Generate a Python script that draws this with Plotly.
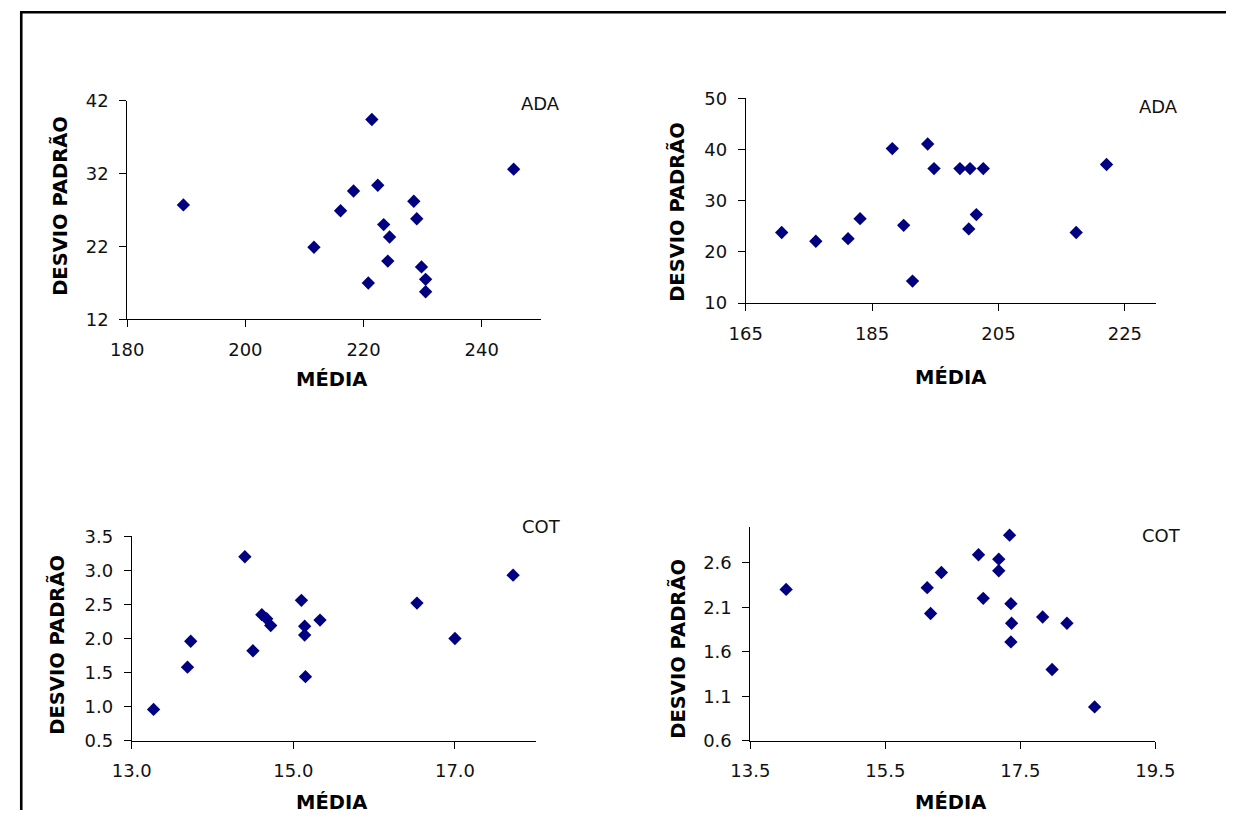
import plotly.graph_objects as go

# ---------------- data ----------------
ada1_media = [189.5, 221.4, 245.4, 222.4, 218.3, 228.5, 216.1, 229.0, 223.4, 224.4,
              211.6, 224.1, 229.8, 230.5, 220.8, 230.5]
ada1_desvio = [27.7, 39.4, 32.6, 30.4, 29.6, 28.2, 26.9, 25.8, 25.0, 23.3,
               21.9, 20.0, 19.2, 17.5, 17.0, 15.8]

ada2_media = [170.7, 176.1, 181.2, 183.1, 188.2, 190.0, 191.4, 193.8, 194.8, 198.9,
              200.5, 202.6, 200.3, 201.5, 217.3, 222.1]
ada2_desvio = [23.8, 22.1, 22.6, 26.5, 40.2, 25.2, 14.3, 41.1, 36.3, 36.3,
               36.3, 36.3, 24.5, 27.3, 23.8, 37.1]

cot1_media = [13.27, 13.69, 13.73, 14.40, 14.50, 14.61, 14.67, 14.72, 15.10, 15.14,
              15.14, 15.15, 15.33, 16.53, 17.00, 17.72]
cot1_desvio = [0.96, 1.58, 1.96, 3.20, 1.82, 2.35, 2.29, 2.19, 2.56, 2.18,
               2.05, 1.44, 2.27, 2.52, 2.00, 2.93]

cot2_media = [14.03, 16.12, 16.33, 16.17, 16.88, 16.95, 17.18, 17.18, 17.34, 17.36,
              17.37, 17.36, 17.83, 18.19, 17.97, 18.60]
cot2_desvio = [2.30, 2.32, 2.49, 2.03, 2.69, 2.20, 2.64, 2.51, 2.91, 2.14,
               1.92, 1.71, 1.99, 1.92, 1.40, 0.98]

panel_labels = ["ADA", "ADA", "COT", "COT"]
x_title = "MÉDIA"
y_title = "DESVIO PADRÃO"

x_ticks = [[180, 200, 220, 240], [165, 185, 205, 225], [13.0, 15.0, 17.0], [13.5, 15.5, 17.5, 19.5]]
y_ticks = [[12, 22, 32, 42], [10, 20, 30, 40, 50], [0.5, 1.0, 1.5, 2.0, 2.5, 3.0, 3.5], [0.6, 1.1, 1.6, 2.1, 2.6]]
x_ranges = [[180, 250], [165, 230], [13.0, 18.0], [13.5, 19.5]]
y_ranges = [[12, 42], [10, 50], [0.5, 3.5], [0.6, 3.0]]
tick_fmt = [("d", "d"), ("d", "d"), (".1f", ".1f"), (".1f", ".1f")]

# ---------------- layout helpers ----------------
W, H = 1246, 820
# the photographed page shows the figure slightly reduced and offset;
# these constants map target picture pixels back onto figure pixels
OX, SX, OY, SY = 18.5, 0.971, 9.0, 0.977


def px(x):
    return ((x - OX) / SX) / W


def py(y):
    return 1 - ((y - OY) / SY) / H


K = 1 / ((SX + SY) / 2)   # size compensation for fonts / markers

# plot-area boxes in target picture pixels: (left, right, top, bottom)
boxes = [
    (126.1, 541.0, 98.8, 318.3),
    (746.5, 1158.6, 96.7, 301.9),
    (130.6, 535.9, 535.7, 740.7),
    (751.2, 1157.5, 526.5, 740.7),
]
label_pos = [(541, 102), (1161, 105), (542, 526), (1164, 535)]
ytitle_pos = [(59, 204), (678, 210), (56, 644), (679, 648)]
xtitle_pos = [(331, 378), (952, 376), (331, 803), (952, 803)]

series = [(ada1_media, ada1_desvio), (ada2_media, ada2_desvio),
          (cot1_media, cot1_desvio), (cot2_media, cot2_desvio)]

fig = go.Figure()
tick_family = "DejaVu Sans, Verdana, sans-serif"
title_family = "DejaVu Sans, Verdana, sans-serif"

for i, (xs, ys) in enumerate(series):
    n = "" if i == 0 else str(i + 1)
    fig.add_trace(go.Scatter(
        x=xs, y=ys, mode="markers", xaxis="x" + n, yaxis="y" + n,
        marker=dict(symbol="diamond", size=10 * K, color="#000080",
                    line=dict(width=0)),
        showlegend=False, cliponaxis=False,
    ))
    l, r, t, b = boxes[i]
    axis_common = dict(showline=True, linecolor="black", linewidth=1,
                       ticks="outside", ticklen=7, tickwidth=1, tickcolor="black",
                       showgrid=False, zeroline=False, mirror=False,
                       tickfont=dict(family=tick_family, size=17.5 * K, color="#111111"))
    fig.update_layout(**{
        "xaxis" + n: dict(domain=[px(l), px(r)], range=x_ranges[i],
                          tickvals=x_ticks[i], tickformat=tick_fmt[i][0],
                          anchor="y" + n, ticklabelstandoff=7, **axis_common),
        "yaxis" + n: dict(domain=[py(b), py(t)], range=y_ranges[i],
                          tickvals=y_ticks[i], tickformat=tick_fmt[i][1],
                          anchor="x" + n, ticklabelstandoff=7, **axis_common),
    })
    fig.add_annotation(text=panel_labels[i], xref="paper", yref="paper",
                       x=px(label_pos[i][0]), y=py(label_pos[i][1]),
                       showarrow=False, xanchor="center", yanchor="middle",
                       font=dict(family=tick_family, size=17.5 * K, color="#111111"))
    fig.add_annotation(text="<b>" + y_title + "</b>", xref="paper", yref="paper",
                       x=px(ytitle_pos[i][0]), y=py(ytitle_pos[i][1]),
                       showarrow=False, textangle=-90, xanchor="center", yanchor="middle",
                       font=dict(family=title_family, size=19 * K, color="black"))
    fig.add_annotation(text="<b>" + x_title + "</b>", xref="paper", yref="paper",
                       x=px(xtitle_pos[i][0]), y=py(xtitle_pos[i][1]),
                       showarrow=False, xanchor="center", yanchor="middle",
                       font=dict(family=title_family, size=19 * K, color="black"))

# outer frame: only its left and top edges lie inside the picture
fig.add_shape(type="line", xref="paper", yref="paper",
              x0=1.3 / W, x1=1.3 / W, y0=0, y1=1,
              line=dict(color="black", width=2.6))
fig.add_shape(type="line", xref="paper", yref="paper",
              x0=0, x1=1, y0=1 - 1.3 / H, y1=1 - 1.3 / H,
              line=dict(color="black", width=2.6))

fig.update_layout(width=W, height=H, margin=dict(l=0, r=0, t=0, b=0),
                  paper_bgcolor="white", plot_bgcolor="white")

fig.write_html("out.html")
